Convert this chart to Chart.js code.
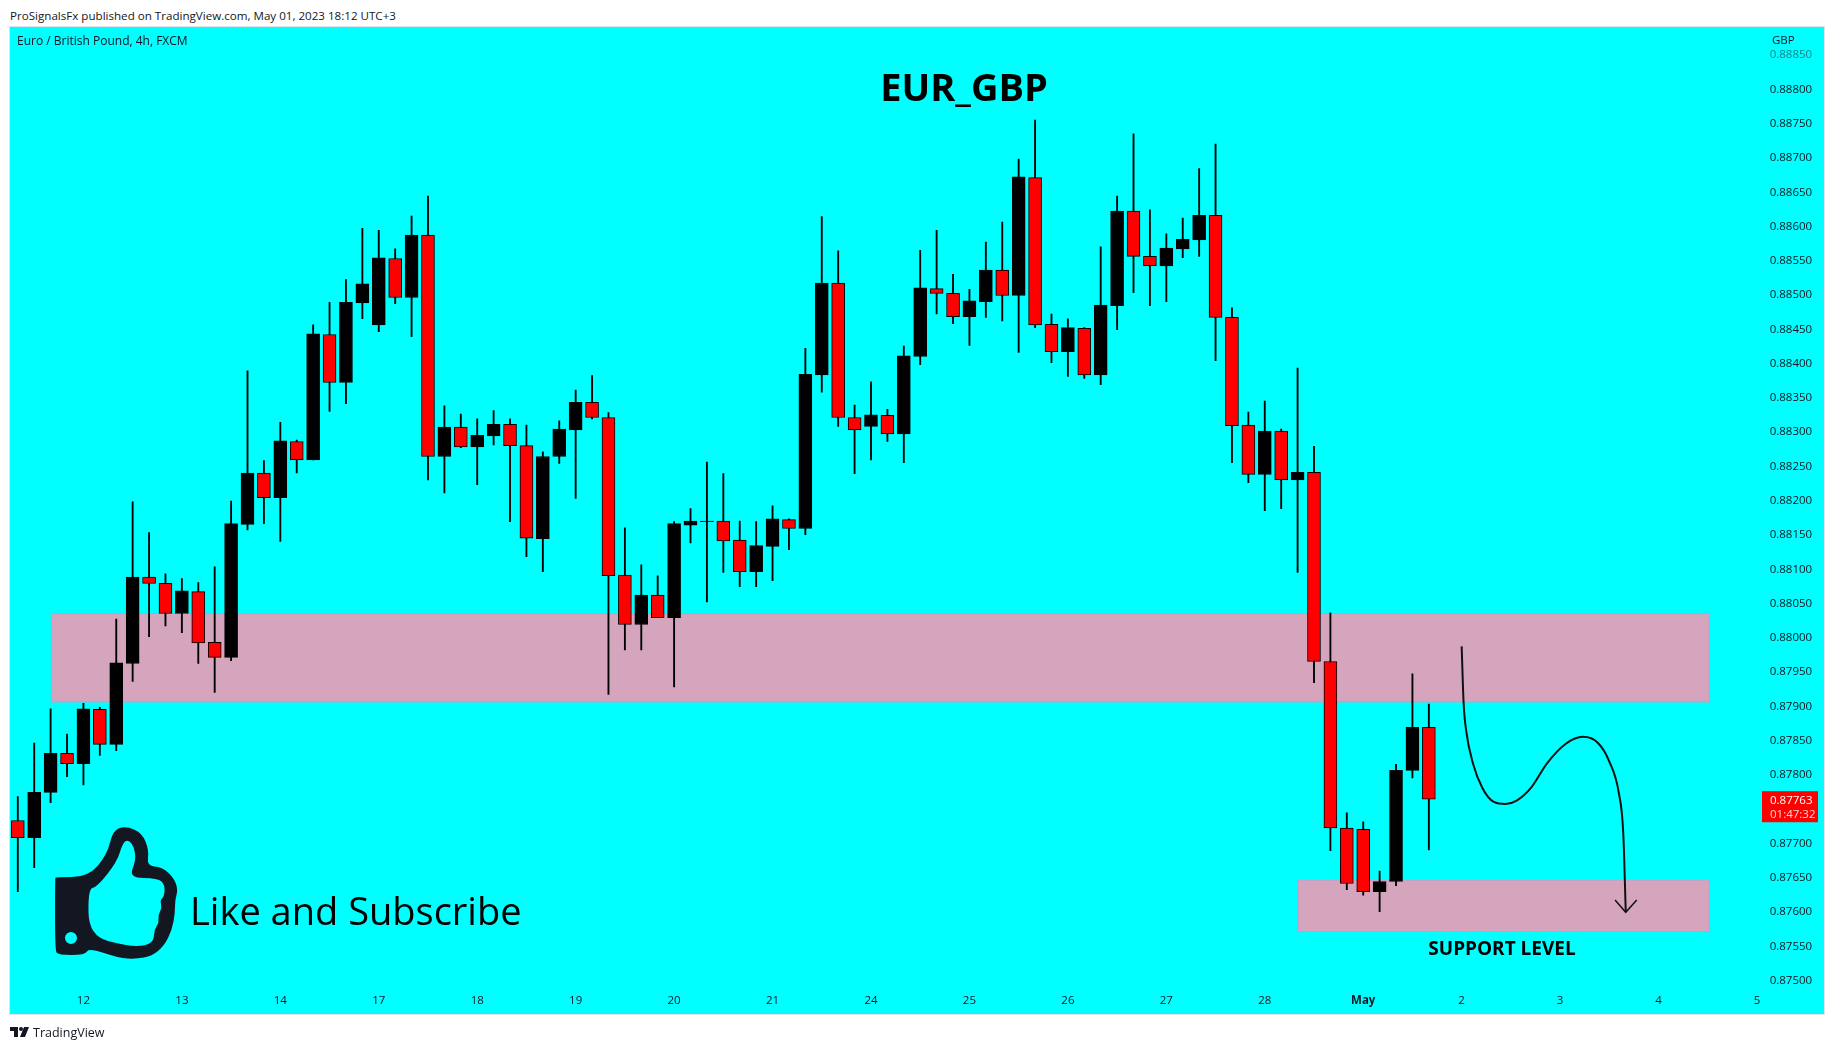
<!DOCTYPE html>
<html>
<head>
<meta charset="utf-8">
<title>EUR_GBP</title>
<script src="https://cdn.jsdelivr.net/npm/chart.js@4"></script>
<style>
  html, body { margin: 0; padding: 0; background: #fff; width: 1834px; height: 1050px; overflow: hidden; }
  #pane { position: absolute; left: 9px; top: 26px; width: 1814px; height: 987px; background: #00ffff; border: 1px solid #e0e3eb; }
  #chart { position: absolute; left: 0; top: 0; }
  .chrome { position: absolute; color: #131722; font-family: "Open Sans", sans-serif; white-space: nowrap; }
  #published { left: 10px; top: 8px; font-size: 11.6px; line-height: 16px; }
  #brand { left: 33px; top: 1025px; font-size: 12.5px; line-height: 16px; }
  #logo { position: absolute; left: 10px; top: 1027px; }
</style>
</head>
<body>
<div class="chrome" id="published">ProSignalsFx published on TradingView.com, May 01, 2023 18:12 UTC+3</div>
<div id="pane"></div>
<canvas id="chart" width="1834" height="1050"></canvas>
<svg id="logo" width="19" height="11" viewBox="0 0 19 11"><path fill="#131722" d="M0 0h8v10H4V4H0z"/><circle fill="#131722" cx="11" cy="2" r="2"/><path fill="#131722" d="M14 0h5l-4 10h-5z"/></svg>
<div class="chrome" id="brand">TradingView</div>
<script>
// Candles, one entry per 4h bar
const opens = [0.87732,0.87707,0.87773,0.87830,0.87815,0.87894,0.87843,0.87961,0.88087,0.88078,0.88034,0.88066,0.87992,0.87970,0.88164,0.88239,0.88203,0.88285,0.88258,0.88441,0.88371,0.88487,0.88455,0.88552,0.88495,0.88586,0.88263,0.88306,0.88277,0.88293,0.88310,0.88279,0.88143,0.88263,0.88302,0.88342,0.88320,0.88090,0.88018,0.88061,0.88028,0.88163,0.88168,0.88169,0.88141,0.88095,0.88132,0.88171,0.88158,0.88382,0.88516,0.88320,0.88307,0.88323,0.88296,0.88409,0.88508,0.88501,0.88467,0.88489,0.88535,0.88498,0.88670,0.88456,0.88416,0.88450,0.88382,0.88483,0.88621,0.88555,0.88541,0.88566,0.88579,0.88615,0.88466,0.88309,0.88237,0.88300,0.88229,0.88240,0.87964,0.87721,0.87719,0.87628,0.87643,0.87805,0.87868];
const closes = [0.87707,0.87773,0.87830,0.87815,0.87895,0.87843,0.87962,0.88087,0.88078,0.88034,0.88067,0.87991,0.87970,0.88165,0.88239,0.88203,0.88286,0.88258,0.88442,0.88371,0.88488,0.88515,0.88553,0.88495,0.88586,0.88263,0.88306,0.88277,0.88294,0.88310,0.88279,0.88144,0.88263,0.88303,0.88342,0.88320,0.88089,0.88018,0.88061,0.88028,0.88165,0.88169,0.88169,0.88140,0.88095,0.88133,0.88172,0.88158,0.88383,0.88516,0.88320,0.88302,0.88324,0.88296,0.88410,0.88509,0.88501,0.88467,0.88490,0.88535,0.88498,0.88671,0.88455,0.88416,0.88451,0.88382,0.88484,0.88621,0.88555,0.88541,0.88567,0.88580,0.88615,0.88466,0.88308,0.88237,0.88300,0.88229,0.88240,0.87964,0.87721,0.87640,0.87628,0.87643,0.87805,0.87868,0.87763];
const highs = [0.87767,0.87845,0.87895,0.87858,0.87903,0.87897,0.88026,0.88197,0.88152,0.88092,0.88085,0.88079,0.88102,0.88198,0.88388,0.88257,0.88313,0.88287,0.88455,0.88488,0.88521,0.88596,0.88593,0.88566,0.88614,0.88643,0.88337,0.88325,0.88318,0.88330,0.88318,0.88309,0.88270,0.88315,0.88360,0.88381,0.88327,0.88159,0.88105,0.88089,0.88168,0.88187,0.88255,0.88238,0.88169,0.88168,0.88191,0.88172,0.88421,0.88613,0.88563,0.88338,0.88372,0.88332,0.88424,0.88564,0.88593,0.88529,0.88507,0.88576,0.88605,0.88697,0.88754,0.88471,0.88464,0.88451,0.88569,0.88643,0.88734,0.88623,0.88588,0.88611,0.88683,0.88719,0.88480,0.88328,0.88344,0.88303,0.88392,0.88278,0.88035,0.87743,0.87730,0.87658,0.87814,0.87946,0.87902];
const lows = [0.87628,0.87663,0.87758,0.87796,0.87784,0.87827,0.87834,0.87935,0.88000,0.88016,0.88006,0.87961,0.87919,0.87965,0.88156,0.88165,0.88139,0.88239,0.88258,0.88329,0.88340,0.88464,0.88445,0.88486,0.88438,0.88229,0.88210,0.88276,0.88222,0.88280,0.88168,0.88117,0.88095,0.88253,0.88202,0.88318,0.87916,0.87981,0.87981,0.88028,0.87927,0.88137,0.88051,0.88094,0.88073,0.88073,0.88082,0.88127,0.88149,0.88357,0.88307,0.88238,0.88258,0.88285,0.88254,0.88397,0.88471,0.88457,0.88425,0.88466,0.88461,0.88415,0.88451,0.88400,0.88380,0.88377,0.88368,0.88448,0.88502,0.88483,0.88489,0.88553,0.88555,0.88403,0.88254,0.88225,0.88184,0.88187,0.88094,0.87933,0.87688,0.87631,0.87623,0.87599,0.87637,0.87794,0.87689];

// Time axis: one label every 6 bars, starting at bar 4
const dayTicks = ['12','13','14','17','18','19','20','21','24','25','26','27','28','May','2','3','4','5'];
const slotCount = 107;

// Price axis
const priceTicks = [0.875,0.8755,0.876,0.8765,0.877,0.8775,0.878,0.8785,0.879,0.8795,0.88,0.8805,0.881,0.8815,0.882,0.8825,0.883,0.8835,0.884,0.8845,0.885,0.8855,0.886,0.8865,0.887,0.8875,0.888,0.8885];

// Pink zones: bar index from/to, price from/to
const zoneFrom = [2.05, 78.05];
const zoneTo = [103.08, 103.08];
const zoneTop = [0.88034, 0.87645];
const zoneBottom = [0.87905, 0.87570];

// Hand drawn projection and its arrow head
const curveBars = [88,88.12,88.27,88.69,89.27,89.96,90.66,91.35,92.27,93.19,94.35,95.39,96.31,97,97.58,97.85,98];
const curvePrices = [0.87986,0.87903,0.87864,0.87815,0.87779,0.87759,0.87756,0.87761,0.87781,0.87815,0.87844,0.87854,0.87845,0.87818,0.87772,0.87713,0.87600];
const arrowBars = [97.35,98,98.67];
const arrowPrices = [0.87616,0.87598,0.87616];

const labels = [];
for (let i = 0; i < slotCount; i++) {
  labels.push(i >= 4 && (i - 4) % 6 === 0 ? dayTicks[(i - 4) / 6] : '');
}

const font = '"Open Sans", sans-serif';
const ink = '#131722';

const candleColors = closes.map((c, i) => (c < opens[i] ? '#ff0000' : '#000000'));

// Zones sit behind the candles
const zones = {
  id: 'zones',
  beforeDatasetsDraw(chart) {
    const { ctx, scales: { x, y } } = chart;
    ctx.save();
    zoneFrom.forEach((from, i) => {
      const left = x.getPixelForValue(from);
      const right = x.getPixelForValue(zoneTo[i]);
      const top = y.getPixelForValue(zoneTop[i]);
      const bottom = y.getPixelForValue(zoneBottom[i]);
      ctx.fillStyle = '#d5a5bd';
      ctx.fillRect(left, top, right - left, bottom - top);
      ctx.strokeStyle = '#cc99c9';
      ctx.lineWidth = 1;
      ctx.strokeRect(left, top, right - left, bottom - top);
    });
    ctx.restore();
  }
};

function smoothPath(points) {
  const p = new Path2D();
  const n = points.length;
  const mid = (a, b) => [(a[0] + b[0]) / 2, (a[1] + b[1]) / 2];
  const start = mid(points[n - 1], points[0]);
  p.moveTo(start[0], start[1]);
  for (let i = 0; i < n; i++) {
    const m = mid(points[i], points[(i + 1) % n]);
    p.quadraticCurveTo(points[i][0], points[i][1], m[0], m[1]);
  }
  p.closePath();
  return p;
}

// Thumb icon
const thumbOuter = [[56,177],[88,177],[107,155],[113,130],[126,126],[142,133],[149,150],[147,166],[162,167],[174,178],[178,190],[175,200],[175,213],[172,230],[164,246],[152,256],[136,259],[119,258],[89,248],[85,255],[58,255],[55,250],[55,178]];
const thumbInner = [[88,189],[97,187],[117,162],[123,142],[129,140],[134,147],[136,160],[129,178],[158,178],[165,185],[164,197],[160,200],[162,208],[158,215],[159,223],[154,230],[154,240],[146,246],[127,246],[89,236]];

const annotations = {
  id: 'annotations',
  afterDatasetsDraw(chart) {
    const { ctx, scales: { y } } = chart;
    ctx.save();
    ctx.textBaseline = 'middle';

    ctx.fillStyle = ink;
    ctx.font = '12px ' + font;
    ctx.fillText('Euro / British Pound, 4h, FXCM', 17, 41.5);
    ctx.font = '11.5px ' + font;
    ctx.fillText('GBP', 1772, 40.5);

    ctx.fillStyle = '#000';
    ctx.font = '700 38px ' + font;
    ctx.textAlign = 'center';
    ctx.fillText('EUR_GBP', 964, 90);

    ctx.font = '38px ' + font;
    ctx.textAlign = 'left';
    ctx.fillText('Like and Subscribe', 190, 914);

    ctx.font = '700 19px ' + font;
    ctx.textAlign = 'center';
    ctx.fillText('SUPPORT LEVEL', 1502, 950);
    ctx.textAlign = 'left';

    // Thumb: offset because the trace is relative to the icon row
    ctx.save();
    ctx.translate(0, 700);
    const icon = new Path2D();
    icon.addPath(smoothPath(thumbOuter));
    icon.addPath(smoothPath(thumbInner));
    icon.moveTo(77, 238);
    icon.arc(71, 238, 6, 0, Math.PI * 2);
    ctx.fillStyle = ink;
    ctx.fill(icon, 'evenodd');
    ctx.restore();

    // Last price tag
    const last = closes[closes.length - 1];
    const tagY = y.getPixelForValue(last);
    ctx.fillStyle = '#ff0000';
    ctx.fillRect(1762, tagY - 8, 56, 31);
    ctx.fillStyle = '#ffffff';
    ctx.font = '11.5px ' + font;
    ctx.fillText(last.toFixed(5), 1770, tagY + 1.5);
    ctx.fillStyle = '#ffd0d0';
    ctx.fillText('01:47:32', 1770, tagY + 15);
    ctx.restore();
  }
};

new Chart(document.getElementById('chart'), {
  data: {
    labels,
    datasets: [
      {
        type: 'line',
        order: 0,
        parsing: false,
        data: curveBars.map((b, i) => ({ x: b, y: curvePrices[i] })),
        borderColor: '#111111',
        borderWidth: 2,
        cubicInterpolationMode: 'monotone',
        pointRadius: 0
      },
      {
        type: 'line',
        order: 0,
        parsing: false,
        data: arrowBars.map((b, i) => ({ x: b, y: arrowPrices[i] })),
        borderColor: '#111111',
        borderWidth: 1.5,
        tension: 0,
        pointRadius: 0
      },
      {
        type: 'bar',
        order: 1,
        grouped: false,
        data: opens.map((o, i) => [o, closes[i]]),
        backgroundColor: candleColors,
        borderColor: '#000000',
        borderWidth: 1,
        borderSkipped: false,
        barThickness: 13
      },
      {
        type: 'bar',
        order: 2,
        grouped: false,
        data: highs.map((h, i) => [lows[i], h]),
        backgroundColor: '#000000',
        barThickness: 1.2
      }
    ]
  },
  options: {
    responsive: false,
    devicePixelRatio: 1,
    animation: false,
    layout: { padding: { left: 9.6, top: 27, right: 0, bottom: 36 } },
    plugins: { legend: { display: false }, tooltip: { enabled: false } },
    scales: {
      x: {
        type: 'category',
        offset: true,
        grid: { display: false, drawTicks: false },
        border: { display: false },
        afterFit: s => { s.height = 28; },
        ticks: {
          autoSkip: false,
          maxRotation: 0,
          padding: 8,
          color: ink,
          font: ctx => ({ family: font, size: 11.5, weight: ctx.tick && ctx.tick.label === 'May' ? '700' : '400' })
        }
      },
      y: {
        position: 'right',
        min: 0.874905,
        max: 0.888897,
        grid: { display: false, drawTicks: false },
        border: { display: false },
        afterFit: s => { s.width = 68.8; },
        afterBuildTicks: s => { s.ticks = priceTicks.map(value => ({ value })); },
        ticks: {
          padding: 4.5,
          labelOffset: 1,
          color: ctx => (ctx.tick && ctx.tick.value > 0.8884 ? 'rgba(19,23,34,0.55)' : ink),
          font: { family: font, size: 11.5 },
          callback: v => v.toFixed(5)
        }
      }
    }
  },
  plugins: [zones, annotations]
});
</script>
</body>
</html>
